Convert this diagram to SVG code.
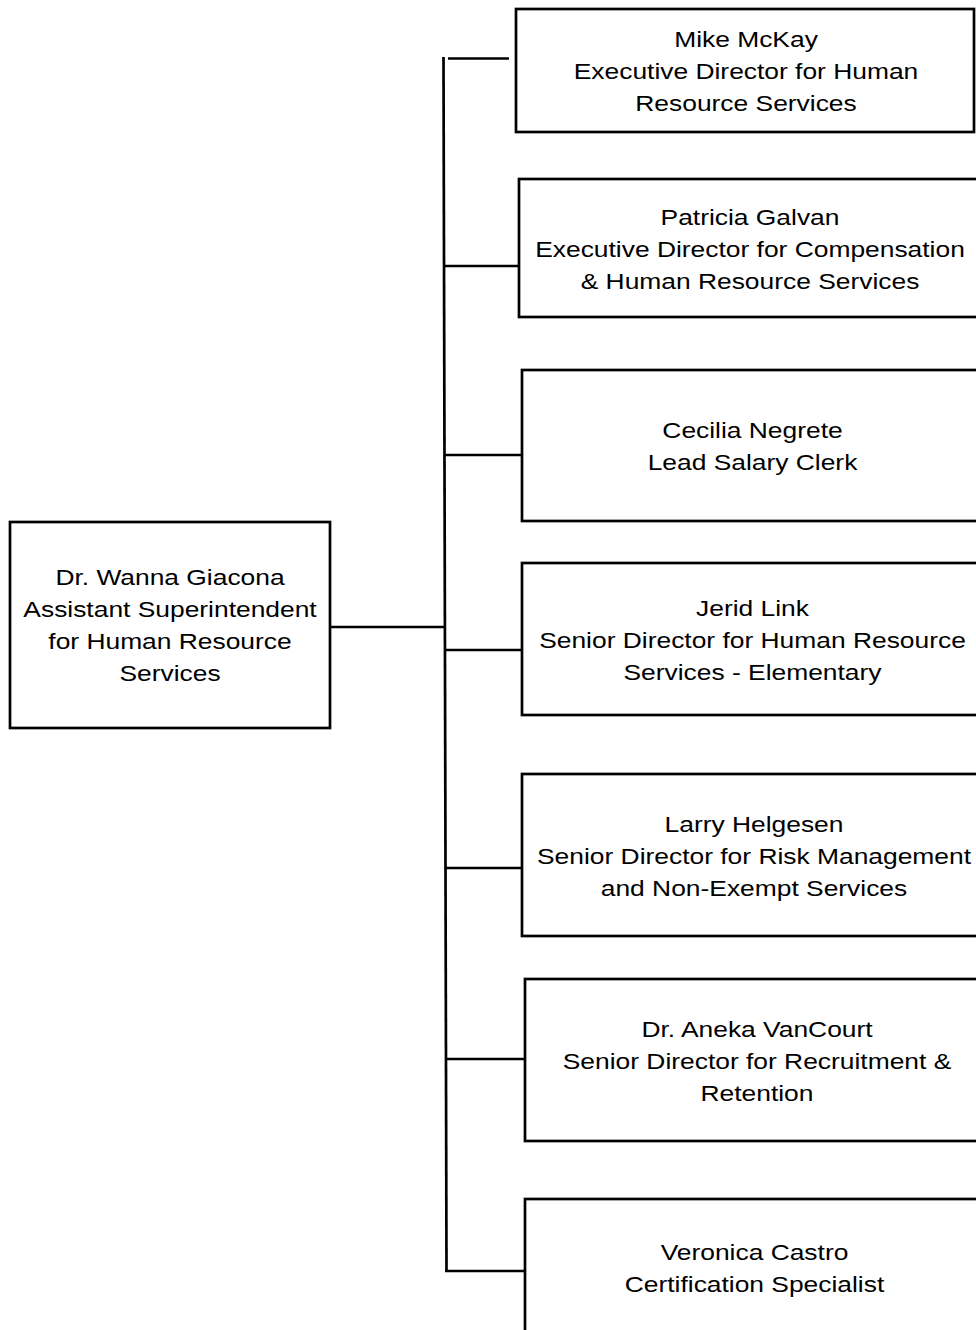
<svg xmlns="http://www.w3.org/2000/svg" width="976" height="1330" viewBox="0 0 976 1330">
<style>
.box{fill:#fff;stroke:#000;stroke-width:2.7}
.ln{stroke:#000;stroke-width:2.7;fill:none}
.t{font-family:"Liberation Sans",Arial,sans-serif;font-size:22px;fill:#000;text-anchor:middle}
</style>
<rect width="976" height="1330" fill="#fff"/>
<g id="connectors">
<line class="ln" x1="443.5" y1="57" x2="446.5" y2="1272"/>
<line class="ln" x1="448" y1="58.5" x2="509" y2="58.5"/>
<line class="ln" x1="330" y1="627" x2="445" y2="627"/>
<line class="ln" x1="444" y1="266" x2="519" y2="266"/>
<line class="ln" x1="444" y1="455" x2="522" y2="455"/>
<line class="ln" x1="445" y1="650" x2="522" y2="650"/>
<line class="ln" x1="446" y1="868" x2="522" y2="868"/>
<line class="ln" x1="446" y1="1059" x2="525" y2="1059"/>
<line class="ln" x1="445" y1="1271" x2="525" y2="1271"/>
</g>
<g id="root">
<rect class="box" x="10" y="522" width="320" height="206"/>
<g transform="translate(170,0) scale(1.2,1)">
<text class="t" x="0" y="585">Dr. Wanna Giacona</text>
<text class="t" x="0" y="617">Assistant Superintendent</text>
<text class="t" x="0" y="649">for Human Resource</text>
<text class="t" x="0" y="681">Services</text>
</g>
</g>
<g id="mckay">
<rect class="box" x="516" y="9" width="458" height="123"/>
<g transform="translate(746,0) scale(1.2,1)">
<text class="t" x="0" y="47">Mike McKay</text>
<text class="t" x="0" y="79">Executive Director for Human</text>
<text class="t" x="0" y="111">Resource Services</text>
</g>
</g>
<g id="galvan">
<rect class="box" x="519" y="179" width="470" height="138"/>
<g transform="translate(750,0) scale(1.2,1)">
<text class="t" x="0" y="225">Patricia Galvan</text>
<text class="t" x="0" y="257">Executive Director for Compensation</text>
<text class="t" x="0" y="289">&amp; Human Resource Services</text>
</g>
</g>
<g id="negrete">
<rect class="box" x="522" y="370" width="470" height="151"/>
<g transform="translate(752.5,0) scale(1.2,1)">
<text class="t" x="0" y="438">Cecilia Negrete</text>
<text class="t" x="0" y="470">Lead Salary Clerk</text>
</g>
</g>
<g id="link">
<rect class="box" x="522" y="563" width="470" height="152"/>
<g transform="translate(752.5,0) scale(1.2,1)">
<text class="t" x="0" y="616">Jerid Link</text>
<text class="t" x="0" y="648">Senior Director for Human Resource</text>
<text class="t" x="0" y="680">Services - Elementary</text>
</g>
</g>
<g id="helgesen">
<rect class="box" x="522" y="774" width="470" height="162"/>
<g transform="translate(754,0) scale(1.2,1)">
<text class="t" x="0" y="832">Larry Helgesen</text>
<text class="t" x="0" y="864">Senior Director for Risk Management</text>
<text class="t" x="0" y="896">and Non-Exempt Services</text>
</g>
</g>
<g id="vancourt">
<rect class="box" x="525" y="979" width="470" height="162"/>
<g transform="translate(757,0) scale(1.2,1)">
<text class="t" x="0" y="1037">Dr. Aneka VanCourt</text>
<text class="t" x="0" y="1069">Senior Director for Recruitment &amp;</text>
<text class="t" x="0" y="1101">Retention</text>
</g>
</g>
<g id="castro">
<rect class="box" x="525" y="1199" width="470" height="160"/>
<g transform="translate(754.5,0) scale(1.2,1)">
<text class="t" x="0" y="1260">Veronica Castro</text>
<text class="t" x="0" y="1292">Certification Specialist</text>
</g>
</g>
</svg>
